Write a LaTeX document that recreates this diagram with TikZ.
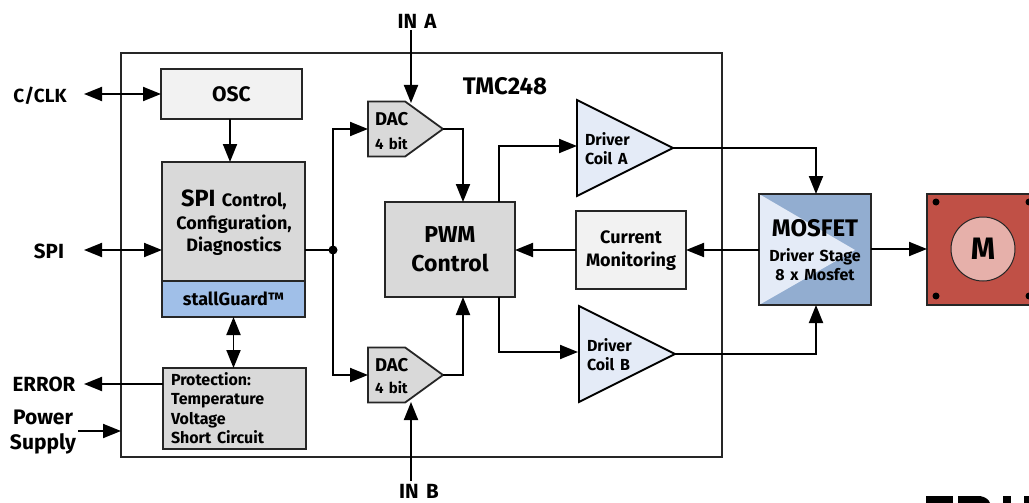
\documentclass[tikz,border=0pt]{standalone}
\usepackage{fontspec}
\setmainfont{Fira Sans}[WordSpace=1.5]
\usetikzlibrary{arrows.meta,shapes.geometric,shapes.symbols}
\definecolor{drvblue}{HTML}{E4EBF7}
\definecolor{guardblue}{HTML}{A0BFE8}
\definecolor{mosblue}{HTML}{92ADD0}
\definecolor{motorred}{HTML}{C05046}
\definecolor{rotorpink}{HTML}{E6B0AA}
\tikzset{
  every node/.style={font=\bfseries,inner sep=0pt,outer sep=0pt,text=black},
  block/.style={draw=black!85,line width=1.8pt,anchor=north west,align=center},
  wire/.style={line width=1.9pt,draw=black},
  sig/.style={wire,-{Triangle[length=18pt,width=14pt]}},
  sigboth/.style={wire,{Triangle[length=18pt,width=14pt]}-{Triangle[length=18pt,width=14pt]}},
  dacbox/.style={draw=black!85,line width=1.8pt,fill=black!15,shape=signal,signal to=east,signal pointer angle=72,
    minimum width=75pt,minimum height=55pt,anchor=east},
  drvbox/.style={draw=black,line width=1.8pt,fill=drvblue,shape=isosceles triangle,isosceles triangle apex angle=53.13,
    isosceles triangle stretches,minimum width=96pt,minimum height=96pt,anchor=apex},
  smalltext/.style={font=\fontsize{#1}{19.5}\selectfont\bfseries,align=left,anchor=west},
  pin/.style={font=\fontsize{20.5}{25}\selectfont\bfseries,align=center},
  screw/.style={circle,fill=black,minimum size=7pt}
}
\begin{document}
\begin{tikzpicture}[x=1pt,y=-1pt]
  \useasboundingbox (0,0) rectangle (1029,503);
  \clip (0,0) rectangle (1029,503);
  % chip outline
  \node[block,minimum width=601pt,minimum height=404pt] (chip) at (121,53) {};
  \node[font=\fontsize{24}{26}\selectfont\bfseries] (chipname) at (505,86) {TMC248};
  % left column
  \node[block,fill=black!5,minimum width=141pt,minimum height=50pt,font=\fontsize{21}{22}\selectfont\bfseries] (osc) at (161,69) {OSC};
  \node[block,fill=black!15,minimum width=143pt,minimum height=119pt] (spi) at (162,162) {};
  \node[font=\fontsize{18}{22.5}\selectfont\bfseries,align=center] (spitext) at (234,223)
    {{\fontsize{23.5}{22.5}\selectfont SPI} Control,\\Configuration,\\Diagnostics};
  \node[block,fill=guardblue,minimum width=143pt,minimum height=36pt,font=\fontsize{18}{18}\selectfont\bfseries] (guard) at (162,281) {stallGuard™};
  \node[block,fill=black!15,minimum width=143pt,minimum height=81pt] (prot) at (163,368) {};
  \node[smalltext=16] (prottext) at (171,408) {Protection:\\Temperature\\Voltage\\Short Circuit};
  % middle column
  \node[dacbox] (daca) at (443,129) {};
  \node[dacbox] (dacb) at (443,375) {};
  \node[smalltext=18.5] (datitle) at (375,119) {DAC};
  \node[smalltext=15] (dabits) at (375,144) {4 bit};
  \node[smalltext=18.5] (dbtitle) at (375,365) {DAC};
  \node[smalltext=15] (dbbits) at (375,388) {4 bit};
  \node[block,fill=black!15,minimum width=130pt,minimum height=95pt,font=\fontsize{23}{29}\selectfont\bfseries] (pwm) at (385,202) {PWM\\Control};
  % drivers
  \node[drvbox] (drva) at (673,148) {};
  \node[smalltext=16] (drvatext) at (585,148.5) {Driver\\Coil A};
  \node[drvbox] (drvb) at (675,354) {};
  \node[smalltext=16] (drvbtext) at (587,354.5) {Driver\\Coil B};
  \node[block,fill=black!5,minimum width=110pt,minimum height=78pt] (cur) at (576,211) {};
  \node[font=\fontsize{18}{23}\selectfont\bfseries,align=center] (curtext) at (631,250.5) {Current\\Monitoring};
  % mosfet
  \node[block,fill=mosblue,minimum width=112pt,minimum height=111pt] (mos) at (759,194) {};
  \fill[drvblue] (mos.north west) -- (855,250) -- (mos.south west) -- cycle;
  \draw[draw=black!85,line width=1.8pt] (mos.north west) rectangle (mos.south east);
  \node[font=\fontsize{24}{26}\selectfont\bfseries] (mostitle) at (815,228) {MOSFET};
  \node[font=\fontsize{16}{19.5}\selectfont\bfseries,align=center] (mostext) at (815,264.5) {Driver Stage\\8 x Mosfet};
  % motor
  \node[block,fill=motorred,minimum width=120pt,minimum height=111pt] (motor) at (927,194) {};
  \node[circle,draw=black!85,line width=1pt,fill=rotorpink,minimum size=64pt,font=\fontsize{31}{32}\selectfont\bfseries] (rotor) at (983,249) {M};
  \node[screw] (s1) at (936,202) {};
  \node[screw] (s2) at (1029,202) {};
  \node[screw] (s3) at (936,296) {};
  \node[screw] (s4) at (1029,296) {};
  % outer pins
  \node[pin,font=\fontsize{19}{25}\selectfont\bfseries] (cclk) at (40,96) {C/CLK};
  \node[pin] (spipin) at (49,251) {SPI};
  \node[pin] (err) at (44,384) {ERROR};
  \node[pin,font=\fontsize{21}{25}\selectfont\bfseries] (pwr) at (43,432) {Power\\Supply};
  \node[pin] (ina) at (417,21) {IN A};
  \node[pin] (inb) at (419,491.5) {IN B};
  % cut off logo
  \fill (926,496) rectangle (953,503);
  \fill (958,496) -- (980,496) .. controls (986,497) and (989,500) .. (990,503) -- (958,503) -- cycle;
  \fill (1003,496) rectangle (1011,503);
  \fill (1024,496) rectangle (1029,503);
  % free ends
  \coordinate (cclkend) at (84,94);
  \coordinate (spiend) at (84,250);
  \coordinate (errend) at (84,384);
  \coordinate (pwrend) at (78,431);
  \coordinate (chipin) at (121,431);
  \coordinate (inaend) at (411,30);
  \coordinate (inbend) at (411,481);
  \coordinate (dacain) at (411,103);
  \coordinate (dacbin) at (411,402);
  \coordinate (busdot) at (333,250);
  \coordinate (oscout) at (230,119);
  \coordinate (spiin) at (230,162);
  \coordinate (pwmup) at (463,202);
  \coordinate (pwmdn) at (463,297);
  \coordinate (pwmouta) at (499,202);
  \coordinate (pwmoutb) at (499,297);
  \coordinate (drvain) at (577,146);
  \coordinate (drvbin) at (578,352);
  \coordinate (mosa) at (816,194);
  \coordinate (mosb) at (816,305);
  \fill (busdot) circle (4.5pt);
  \draw[sigboth] (cclkend) -- (osc.west |- cclkend);
  \draw[sigboth] (spiend) -- (spi.west |- spiend);
  \draw[sig] (oscout) -- (spiin);
  \draw[sigboth] (guard.south) -- (prot.north -| guard.south);
  \draw[sig] (prot.west |- errend) -- (errend);
  \draw[sig] (pwrend) -- (chipin);
  \draw[wire] (spi.east |- busdot) -- (busdot);
  \draw[sig] (busdot) |- (daca.west);
  \draw[sig] (busdot) |- (dacb.west);
  \draw[sig] (inaend) -- (dacain);
  \draw[sig] (inbend) -- (dacbin);
  \draw[sig] (daca.east) -| (pwmup);
  \draw[sig] (dacb.east) -| (pwmdn);
  \draw[sig] (pwmouta) |- (drvain);
  \draw[sig] (pwmoutb) |- (drvbin);
  \draw[sig] (cur.west |- busdot) -- (pwm.east |- busdot);
  \draw[sig] (mos.west |- busdot) -- (cur.east |- busdot);
  \draw[sig] (drva.apex) -| (mosa);
  \draw[sig] (drvb.apex) -| (mosb);
  \draw[sig] (mos.east |- rotor) -- (motor.west |- rotor);
\end{tikzpicture}
\end{document}
